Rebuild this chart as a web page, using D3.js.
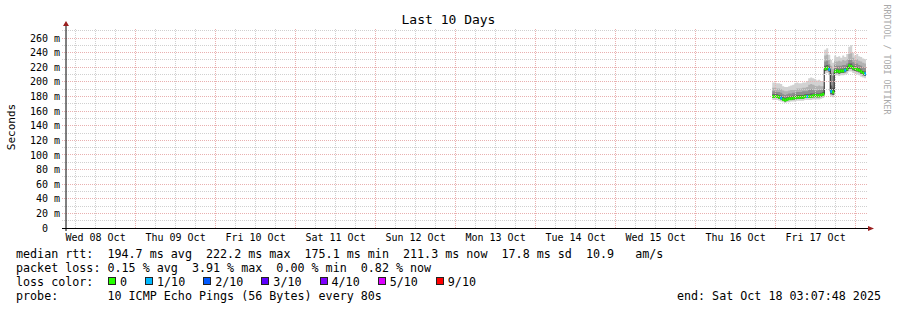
<!DOCTYPE html>
<html><head><meta charset="utf-8">
<script src="https://cdn.jsdelivr.net/npm/d3@7"></script>
<style>
html,body{margin:0;padding:0;background:#fff}
svg{display:block}
text{font-family:"DejaVu Sans Mono","Liberation Mono",monospace;fill:#000}
</style>
</head><body>
<svg id="c" width="897" height="310"></svg>
<script>
// ---------------- data ----------------
const titleText = "Last 10 Days";
const yAxisTitle = "Seconds";
const creditText = "RRDTOOL / TOBI OETIKER";
const endTime = "2025-10-18T03:07:48Z";
const spanDays = 10;
const dataStart = "2025-10-16T23:00:00Z";
const stepMinutes = 36;

const yTickValues = [0,20,40,60,80,100,120,140,160,180,200,220,240,260];
const yTickLabels = ["0","20 m","40 m","60 m","80 m","100 m","120 m","140 m","160 m","180 m","200 m","220 m","240 m","260 m"];
const dayLabels = ["Wed 08 Oct","Thu 09 Oct","Fri 10 Oct","Sat 11 Oct","Sun 12 Oct","Mon 13 Oct","Tue 14 Oct","Wed 15 Oct","Thu 16 Oct","Fri 17 Oct"];

// median RTT (ms)
const median = [180,180,180,179,178,176,175,176,177,177,178,178,179,179,179,179,180,180,180,180,181,181,181,181,182,183,
                218,219,217,187,186,214,215,214,215,215,216,218,222,221,219,218,217,216,214,212,211];
// lost pings out of 10
const loss   = [0,0,0,0,1,0,0,0,0,0,0,0,0,0,0,0,0,1,0,0,0,0,0,0,0,0,
                0,0,1,1,0,0,0,0,0,0,1,0,0,0,0,0,0,0,0,0,1];
// smoke (ms)
const smokeMax = [199,199,198,198,197,194,193,193,194,195,196,198,199,198,198,199,199,201,205,206,205,204,202,203,201,200,
                  244,246,237,230,226,236,234,235,233,236,234,238,248,250,240,236,238,235,234,232,231];
const smokeUp2 = [192,192,191,191,190,188,187,187,188,189,189,190,191,191,191,192,192,193,196,197,196,195,194,195,194,194,
                  236,237,230,222,218,229,228,229,228,230,229,231,238,239,233,230,231,229,228,226,225];
const smokeUp3 = [187,187,186,186,185,183,182,183,184,184,185,185,186,186,186,187,187,187,189,190,189,188,188,189,189,190,
                  228,229,224,212,208,223,222,222,222,223,223,225,230,230,227,225,225,223,222,220,219];
const smokeUp4 = [183,183,183,182,181,179,178,179,180,180,181,181,182,182,182,182,183,183,183,184,184,184,184,184,185,186,
                  222,223,221,195,192,218,218,217,218,218,219,221,225,225,222,221,220,219,217,215,214];
const smokeLo  = [178,178,178,177,176,174,173,174,175,175,176,176,177,177,177,177,178,178,178,178,179,179,179,179,180,181,
                  215,216,214,183,182,211,212,211,212,212,213,215,218,218,216,215,214,213,211,209,208];
const smokeMin = [175,175,175,174,173,172,171,172,172,173,173,173,174,174,174,174,175,175,175,175,176,176,176,176,177,178,
                  211,212,210,180,179,208,209,208,209,209,210,211,214,214,212,211,210,209,207,206,205];

const lossLevels = [0,1,2,3,4,5,9];
const lossLegend = ["0","1/10","2/10","3/10","4/10","5/10","9/10"];
const lossColors = ["#26ff00","#00b8ff","#0059ff","#5e00ff","#7e00ff","#dd00ff","#ff0000"];

const statsRtt  = "median rtt:  194.7 ms avg  222.2 ms max  175.1 ms min  211.3 ms now  17.8 ms sd  10.9   am/s";
const statsLoss = "packet loss: 0.15 % avg  3.91 % max  0.00 % min  0.82 % now";
const lossTitle = "loss color:";
const probeText = "probe:       10 ICMP Echo Pings (56 Bytes) every 80s";

// ---------------- layout / style ----------------
const W = 897, H = 310;
const pLeft = 66, pRight = 866, pBottom = 228, pTop = 28;
const yMax = 273.7;
const minorCol = "#d0d0d0", majorCol = "#e9b0b0", arrowCol = "#9a1f1f";
const smokeCols = ["#d2d2d2","#b2b2b2","#8e8e8e","#5c5c5c"];
const keepSpaces = s => s.replace(/ /g, "\u00A0");

const svg = d3.select("#c");
const endDate = new Date(endTime);
const startDate = new Date(endDate.getTime() - spanDays*864e5);
const x = d3.scaleUtc().domain([startDate, endDate]).range([pLeft, pRight]);
const y = d3.scaleLinear().domain([0, yMax]).range([pBottom, pTop]);
const px = v => Math.floor(v) + 0.5;

svg.append("defs").append("clipPath").attr("id","plot")
  .append("rect").attr("x",pLeft).attr("y",pTop-5).attr("width",pRight-pLeft).attr("height",pBottom-pTop+5);

// records
const t0 = new Date(dataStart).getTime(), stepMs = stepMinutes*60000;
const recs = median.map((m,i)=>({t:new Date(t0+i*stepMs), m, loss:loss[i],
  max:smokeMax[i], u2:smokeUp2[i], u3:smokeUp3[i], u4:smokeUp4[i], lo:smokeLo[i], min:smokeMin[i]}));
const recsExt = recs.concat([Object.assign({}, recs[recs.length-1], {t:new Date(t0+recs.length*stepMs)})]);

// smoke
const gData = svg.append("g").attr("clip-path","url(#plot)");
const bands = [["min","max"],["lo","u2"],["lo","u3"],["lo","u4"]];
bands.forEach(([lo,hi],k)=>{
  gData.append("path").datum(recsExt)
    .attr("fill", smokeCols[k])
    .attr("d", d3.area().curve(d3.curveStepAfter).x(d=>x(d.t)).y0(d=>y(d[lo])).y1(d=>y(d[hi])));
});

// grid
const gGrid = svg.append("g").attr("shape-rendering","crispEdges").attr("stroke-dasharray","1,1");
const h6 = d3.utcHour.every(6).range(startDate, endDate).filter(d=>d.getUTCHours()!==0);
const days = d3.utcDay.range(startDate, endDate);
gGrid.selectAll(".vmin").data(h6).join("line")
  .attr("x1",d=>px(x(d))).attr("x2",d=>px(x(d))).attr("y1",pBottom).attr("y2",pTop).attr("stroke",minorCol);
const hMinor = d3.range(10, yMax, 10).filter(v=>v%20!==0);
gGrid.selectAll(".hmin").data(hMinor).join("line")
  .attr("x1",pLeft-4).attr("x2",pRight+2).attr("y1",d=>px(y(d))).attr("y2",d=>px(y(d))).attr("stroke",minorCol);
gGrid.selectAll(".vmaj").data(days).join("line")
  .attr("x1",d=>px(x(d))).attr("x2",d=>px(x(d))).attr("y1",pBottom).attr("y2",pTop).attr("stroke",majorCol);
gGrid.selectAll(".hmaj").data(yTickValues.filter(v=>v>0)).join("line")
  .attr("x1",pLeft-4).attr("x2",pRight+2).attr("y1",d=>px(y(d))).attr("y2",d=>px(y(d))).attr("stroke",majorCol);

// median: thin dark step line, then loss-coloured segments
gData.append("path").datum(recsExt).attr("fill","none").attr("stroke","#1c1c1c").attr("stroke-width",1)
  .attr("d", d3.line().curve(d3.curveStepAfter).x(d=>x(d.t)).y(d=>y(d.m)));
const colorOf = l => { let k = 0; lossLevels.forEach((lv,i)=>{ if (l>=lv) k=i; }); return lossColors[k]; };
const seg = d3.line().x(d=>x(d[0])).y(d=>y(d[1]));
recs.forEach((r,i)=>{
  gData.append("path").attr("fill","none").attr("stroke",colorOf(r.loss)).attr("stroke-width",3)
    .attr("d", seg([[r.t, r.m],[recsExt[i+1].t, r.m]]));
});

// axes
svg.append("line").attr("x1",pLeft).attr("x2",pLeft).attr("y1",pBottom+3).attr("y2",pTop-3)
  .attr("stroke","#000").attr("stroke-width",1);
svg.append("line").attr("x1",pLeft-4).attr("x2",pRight+3).attr("y1",pBottom+0.5).attr("y2",pBottom+0.5)
  .attr("stroke","#000").attr("shape-rendering","crispEdges");
svg.append("path").attr("fill",arrowCol)
  .attr("d",`M${pLeft-3},${pTop-2}L${pLeft+3},${pTop-2}L${pLeft},${pTop-7}Z`);
svg.append("path").attr("fill",arrowCol)
  .attr("d",`M${pRight+2},${pBottom-2}L${pRight+2},${pBottom+3}L${pRight+8},${pBottom+0.5}Z`);

// y tick labels
const gy = svg.append("g").style("font-size","10px");
yTickValues.forEach((v,i)=>{
  const parts = yTickLabels[i].split(" ");
  gy.append("text").attr("x",48).attr("y",y(v)+3.6).attr("text-anchor","end").text(parts[0]);
  if (parts[1]) gy.append("text").attr("x",54).attr("y",y(v)+3.6).text(parts[1]);
});

// x labels at noon
const noons = d3.utcDay.range(d3.utcDay.floor(startDate), endDate).map(d=>d3.utcHour.offset(d,12)).filter(d=>d>startDate && d<endDate);
svg.append("g").style("font-size","10px").selectAll("text").data(noons).join("text")
  .attr("x",d=>x(d)).attr("y",241).attr("text-anchor","middle").text((d,i)=>dayLabels[i]);

// title / axis title / credit
svg.append("text").attr("x",W/2).attr("y",24).attr("text-anchor","middle").style("font-size","13px").text(titleText);
svg.append("text").attr("transform","translate(14.5,127) rotate(-90)").attr("text-anchor","middle")
  .style("font-size","11px").text(yAxisTitle);
svg.append("text").attr("transform","translate(884,59.5) rotate(90)").attr("text-anchor","middle")
  .style("font-size","8.3px").style("fill","#a9a9a9").text(creditText);

// legend
const lg = svg.append("g").style("font-size","11.7px");
const rows = [257.5, 271.8, 286.1, 300.4];
lg.append("text").attr("x",16).attr("y",rows[0]).text(keepSpaces(statsRtt));
lg.append("text").attr("x",16).attr("y",rows[1]).text(keepSpaces(statsLoss));
lg.append("text").attr("x",16).attr("y",rows[2]).text(keepSpaces(lossTitle));
let cx = 108;
lossLegend.forEach((lab,i)=>{
  lg.append("rect").attr("x",cx+0.5).attr("y",rows[2]-8.5).attr("width",7).attr("height",7)
    .attr("fill",lossColors[i]).attr("stroke","#222").attr("stroke-width",1).attr("shape-rendering","crispEdges");
  const t = lg.append("text").attr("x",cx+12).attr("y",rows[2]).text(lab);
  cx = cx + 12 + t.node().getComputedTextLength() + 18;
});
lg.append("text").attr("x",16).attr("y",rows[3]).text(keepSpaces(probeText));
lg.append("text").attr("x",881).attr("y",rows[3]).attr("text-anchor","end")
  .text(keepSpaces("end: " + d3.utcFormat("%a %b %d %H:%M:%S %Y")(endDate)));
</script>
</body></html>
